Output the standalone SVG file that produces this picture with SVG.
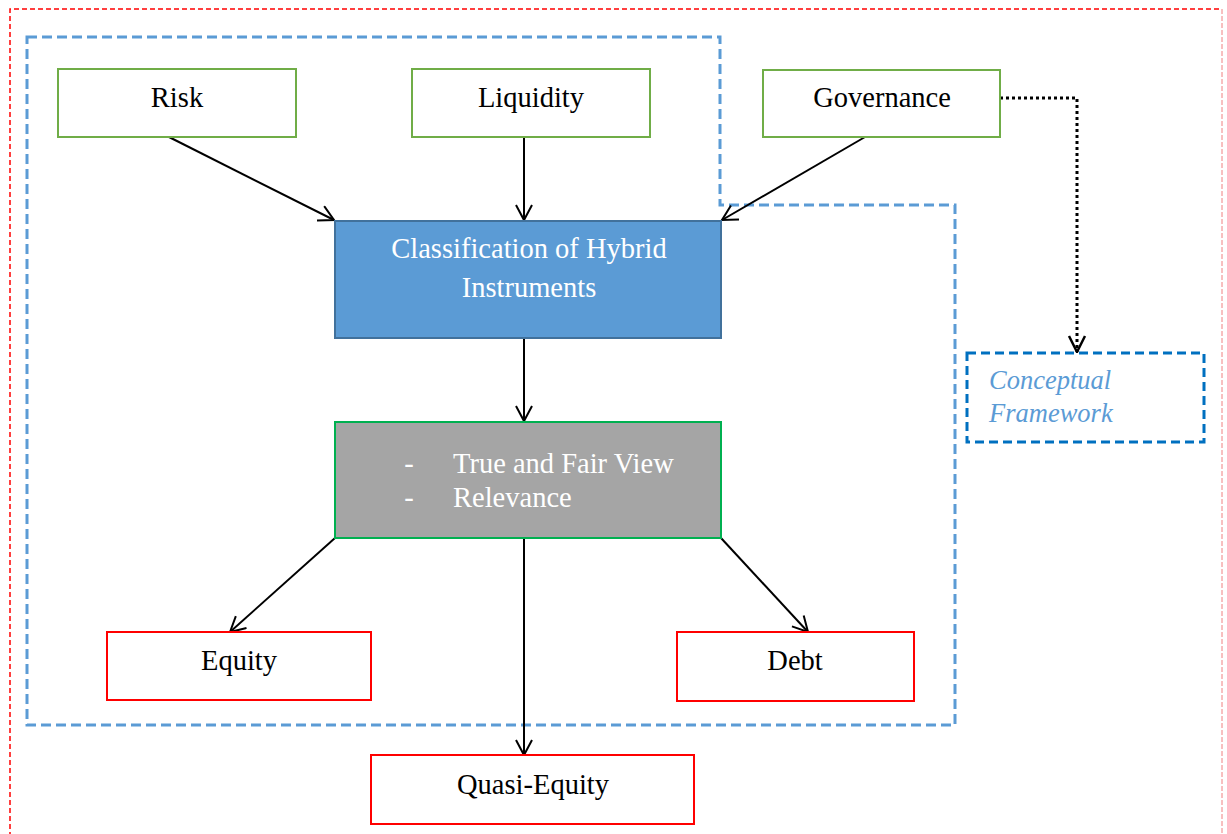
<svg xmlns="http://www.w3.org/2000/svg" width="1227" height="834" viewBox="0 0 1227 834">
<style>
.t{font-family:"Liberation Serif","Times New Roman",serif;font-size:28.5px;fill:#000;text-anchor:middle}
.w{fill:#fff}
.g{fill:#fff;stroke:#70ad47;stroke-width:2}
.r{fill:#fff;stroke:#ff0000;stroke-width:2}
.c{stroke:#000;stroke-width:2;fill:none;marker-end:url(#ah)}
</style>
<defs>
<marker id="ah" markerWidth="20" markerHeight="20" refX="16" refY="9" orient="auto" markerUnits="userSpaceOnUse">
<path d="M1,1 L16,9 L1,17" fill="none" stroke="#000" stroke-width="2"/>
</marker>
</defs>
<rect width="1227" height="834" fill="#fff"/>
<g id="frames">
<path d="M10,845 L10,9 L1222,9" fill="none" stroke="#ff0000" stroke-width="1.5" stroke-dasharray="5,3"/>
<path d="M1222,9 L1222,845" fill="none" stroke="#f08080" stroke-width="1" stroke-dasharray="5,2"/>
<path d="M27,37 L720,37 L720,205 L955,205 L955,725 L27,725 Z" fill="none" stroke="#5b9bd5" stroke-width="3" stroke-dasharray="10,5"/>
</g>
<g id="connectors">
<line class="c" x1="169" y1="137" x2="334" y2="220"/>
<line class="c" x1="524" y1="137" x2="524" y2="220"/>
<line class="c" x1="865" y1="137" x2="722" y2="220"/>
<line class="c" x1="524" y1="338" x2="524" y2="421"/>
<line class="c" x1="335" y1="538" x2="230" y2="632"/>
<line class="c" x1="721" y1="538" x2="808" y2="632"/>
<line class="c" x1="524" y1="538" x2="524" y2="755"/>
<path d="M1000,98 L1077,98 L1077,352" fill="none" stroke="#000" stroke-width="3" stroke-dasharray="3,3"/>
<path d="M1069,336 L1077,352 L1085,336" fill="none" stroke="#000" stroke-width="2.5"/>
</g>
<g id="risk"><rect class="g" x="58" y="69" width="238" height="68"/><text class="t" x="177" y="107">Risk</text></g>
<g id="liquidity"><rect class="g" x="412" y="69" width="238" height="68"/><text class="t" x="531" y="107">Liquidity</text></g>
<g id="governance"><rect class="g" x="763" y="70" width="237" height="67"/><text class="t" x="882" y="107">Governance</text></g>
<g id="classification"><rect x="335" y="221" width="386" height="117" fill="#5b9bd5" stroke="#41719c" stroke-width="2"/>
<text class="t w" x="529" y="258">Classification of Hybrid</text><text class="t w" x="529" y="297">Instruments</text></g>
<g id="tfv"><rect x="335" y="422" width="386" height="116" fill="#a5a5a5" stroke="#00b050" stroke-width="2"/>
<text class="t w" x="409" y="473">-</text><text class="t w" x="453" y="473" style="text-anchor:start">True and Fair View</text>
<text class="t w" x="409" y="507">-</text><text class="t w" x="453" y="507" style="text-anchor:start">Relevance</text></g>
<g id="equity"><rect class="r" x="107" y="632" width="264" height="68"/><text class="t" x="239" y="670">Equity</text></g>
<g id="debt"><rect class="r" x="677" y="632" width="237" height="69"/><text class="t" x="795" y="670">Debt</text></g>
<g id="quasi"><rect class="r" x="371" y="755" width="323" height="69"/><text class="t" x="533" y="794">Quasi-Equity</text></g>
<g id="conceptual"><rect x="967" y="353" width="237" height="89" fill="#fff" stroke="#0070c0" stroke-width="3" stroke-dasharray="9,5"/>
<text class="t" x="989" y="389" style="text-anchor:start;font-style:italic;fill:#5b9bd5;font-size:26.5px">Conceptual</text>
<text class="t" x="989" y="422" style="text-anchor:start;font-style:italic;fill:#5b9bd5;font-size:26.5px">Framework</text></g>
</svg>
